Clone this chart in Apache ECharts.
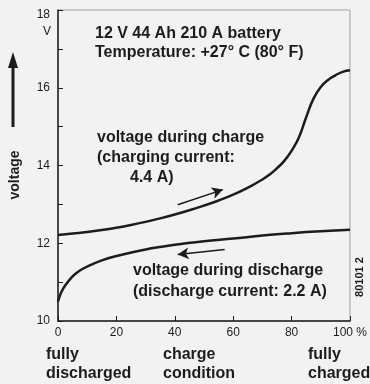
<!DOCTYPE html>
<html>
<head>
<meta charset="utf-8">
<script src="https://cdn.jsdelivr.net/npm/echarts@6/dist/echarts.min.js"></script>
<style>
  html, body { margin: 0; padding: 0; background: #f2f2f2; }
  #chart { width: 370px; height: 384px; }
</style>
</head>
<body>
<div id="chart"></div>
<script>
// State of charge (%) and terminal voltage (V)
const chargeX = [0, 5, 10, 15, 20, 25, 30, 35, 40, 45, 50, 55, 60, 65, 70, 72.5, 75, 77.5, 80, 82.5, 85, 87.5, 90, 92.5, 95, 97.5, 100];
const chargeV = [12.21, 12.25, 12.29, 12.34, 12.40, 12.47, 12.55, 12.64, 12.74, 12.85, 12.97, 13.10, 13.25, 13.43, 13.64, 13.77, 13.93, 14.12, 14.38, 14.72, 15.24, 15.72, 16.02, 16.20, 16.32, 16.41, 16.45];

const dischargeX = [0, 1, 2.5, 5, 7.5, 10, 15, 20, 30, 40, 50, 60, 70, 80, 90, 100];
const dischargeV = [10.50, 10.72, 10.92, 11.15, 11.30, 11.40, 11.56, 11.67, 11.84, 11.96, 12.05, 12.12, 12.20, 12.26, 12.31, 12.35];

// Direction arrows (percent, volts)
const chargeArrow = [[41, 12.99], [56.5, 13.38]];
const dischargeArrow = [[57.1, 11.84], [41, 11.71]];

const xTicks = [0, 20, 40, 60, 80, 100];
const yTicks = [10, 12, 14, 16, 18];

const ink = '#1c1c1c';
const font = '"Liberation Sans", Arial, sans-serif';

const pairs = (xs, ys) => xs.map((x, i) => [x, ys[i]]);

const chart = echarts.init(document.getElementById('chart'), null, { renderer: 'canvas' });

function txt(text, x, y, opts) {
  return {
    type: 'text',
    x: x, y: y,
    rotation: (opts && opts.rotation) || 0,
    style: Object.assign({
      text: text,
      fill: ink,
      font: 'bold 16px ' + font,
      textAlign: 'left',
      textVerticalAlign: 'middle'
    }, (opts && opts.style) || {})
  };
}

const option = {
  backgroundColor: '#f2f2f2',
  animation: false,
  grid: { left: 58, right: 20, top: 10, bottom: 63, show: true, borderColor: '#a0a0a0', borderWidth: 1 },
  xAxis: {
    type: 'value', min: 0, max: 100, interval: 20,
    axisLine: { show: true, lineStyle: { color: ink, width: 1.5 } },
    axisTick: { show: true, inside: true, length: 5, lineStyle: { color: ink } },
    splitLine: { show: false },
    axisLabel: {
      color: ink, fontFamily: font, fontSize: 12, margin: 6,
      formatter: v => xTicks.includes(v) ? (v === 100 ? '100 %' : String(v)) : ''
    }
  },
  yAxis: {
    type: 'value', min: 10, max: 18, interval: 2,
    axisLine: { show: true, lineStyle: { color: ink, width: 1.5 } },
    axisTick: { show: true, inside: true, length: 5, lineStyle: { color: ink } },
    minorTick: { show: true, splitNumber: 2, length: 5, lineStyle: { color: ink } },
    splitLine: { show: false },
    axisLabel: {
      color: ink, fontFamily: font, fontSize: 12, margin: 8,
      formatter: v => yTicks.includes(v) ? (v === 18 ? '{top|18}' : String(v)) : '',
      rich: { top: { fontFamily: font, fontSize: 12, color: ink, padding: [9, 0, 0, 0] } }
    }
  },
  series: [
    {
      type: 'line', data: pairs(chargeX, chargeV), smooth: 0.5, symbol: 'none',
      lineStyle: { color: ink, width: 2.5 },
      markLine: {
        silent: true, symbol: ['none', 'arrow'], symbolSize: [9, 11],
        lineStyle: { color: ink, width: 1.5, type: 'solid' }, label: { show: false },
        data: [[{ coord: chargeArrow[0] }, { coord: chargeArrow[1] }]]
      }
    },
    {
      type: 'line', data: pairs(dischargeX, dischargeV), smooth: 0.4, symbol: 'none',
      lineStyle: { color: ink, width: 2.5 },
      markLine: {
        silent: true, symbol: ['none', 'arrow'], symbolSize: [9, 11],
        lineStyle: { color: ink, width: 1.5, type: 'solid' }, label: { show: false },
        data: [[{ coord: dischargeArrow[0] }, { coord: dischargeArrow[1] }]]
      }
    }
  ],
  graphic: [
    txt('12 V 44 Ah 210 A battery', 95, 34),
    txt('Temperature: +27° C (80° F)', 95, 53),
    txt('voltage during charge', 97, 138),
    txt('(charging current:', 97, 158),
    txt('4.4 A)', 130, 178),
    txt('voltage during discharge', 133, 271),
    txt('(discharge current: 2.2 A)', 133, 292),
    txt('fully', 46, 355),
    txt('discharged', 46, 374),
    txt('charge', 163, 355),
    txt('condition', 163, 374),
    txt('fully', 308, 355),
    txt('charged', 308, 374),
    txt('V', 47, 32, { style: { font: '12px ' + font, textAlign: 'center' } }),
    txt('voltage', 15, 175, { rotation: Math.PI / 2, style: { font: 'bold 14px ' + font, textAlign: 'center' } }),
    txt('80101 2', 360, 277, { rotation: Math.PI / 2, style: { font: 'bold 11px ' + font, textAlign: 'center' } }),
    { type: 'line', shape: { x1: 13, y1: 127, x2: 13, y2: 66 }, style: { stroke: ink, lineWidth: 3 } },
    { type: 'polygon', shape: { points: [[13, 52], [8, 68], [18, 68]] }, style: { fill: ink } }
  ]
};

chart.setOption(option);
</script>
</body>
</html>
